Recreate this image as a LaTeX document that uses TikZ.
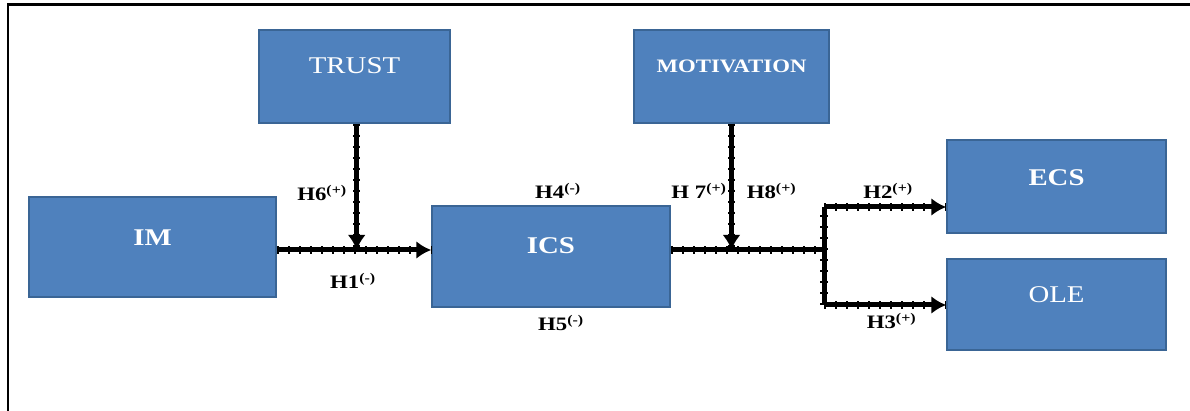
\documentclass[tikz,border=0pt]{standalone}
\usepackage{fontspec}
\setmainfont{Liberation Serif}[FakeStretch=1.2]
\usetikzlibrary{arrows.meta}
\definecolor{boxfill}{HTML}{4F81BD}
\definecolor{boxline}{HTML}{3A6595}
\tikzset{
  block/.style={draw=boxline, line width=1.5pt, fill=boxfill, inner sep=0pt},
  boxtext/.style={text=white, inner sep=0pt, font=\fontsize{24}{28}\selectfont},
  boxbold/.style={boxtext, font=\bfseries\fontsize{24}{28}\selectfont},
  hyp/.style={inner sep=0pt, font=\bfseries\fontsize{19}{22}\selectfont},
  linkline/.style={line width=5pt, preaction={draw, -, line width=7.5pt, dash pattern=on 2pt off 9pt}},
  linkarrow/.style={linkline, -{Latex[length=15pt,width=18pt]}}
}
\begin{document}
\begin{tikzpicture}[x=1pt,y=1pt]
    \useasboundingbox (0,0) rectangle (1190,411);
    % frame
    \draw[line width=3pt] (7,406) -- (1190,406);
    \draw[line width=2pt] (8,0) -- (8,407);
    %
    \node[block, minimum width=191pt, minimum height=93pt, label={[boxtext, yshift=10.5pt]center:TRUST}] (trust) at (354.5,334.5) {};
    \node[block, minimum width=195pt, minimum height=93pt, label={[boxbold, font=\bfseries\fontsize{19}{22}\selectfont, yshift=10pt]center:MOTIVATION}] (motivation) at (731.5,334.5) {};
    \node[block, minimum width=247pt, minimum height=100pt, label={[boxbold, yshift=9pt]center:IM}] (im) at (152.5,164) {};
    \node[block, minimum width=238pt, minimum height=101pt, label={[boxbold, yshift=10.5pt]center:ICS}] (ics) at (551,154.5) {};
    \node[block, minimum width=219pt, minimum height=93pt, label={[boxbold, yshift=8.5pt]center:ECS}] (ecs) at (1056.5,224.5) {};
    \node[block, minimum width=219pt, minimum height=91pt, label={[boxtext, yshift=9.5pt]center:OLE}] (ole) at (1056.5,106.5) {};
    %
    \coordinate (j1) at (356.7,161);
    \coordinate (j2) at (731.5,161);
    \coordinate (split) at (824,161);
    \coordinate (up) at (824,204);
    \coordinate (down) at (824,106);
    %
    \draw[linkarrow] (im.east |- j1) -- (ics.west |- j1);
    \draw[linkarrow] (trust.south -| j1) -- (j1);
    \draw[linkline] (ics.east |- j2) -- (split);
    \draw[linkarrow] (motivation.south) -- (j2);
    \draw[linkline] (down) -- (up);
    \draw[linkarrow] (up) -- (ecs.west |- up);
    \draw[linkarrow] (down) -- (ole.west |- down);
    %
    \node[hyp] (h6) at (322,218) {H6\textsuperscript{(+)}};
    \node[hyp] (h1) at (353,130) {H1\textsuperscript{(-)}};
    \node[hyp] (h4) at (558,220) {H4\textsuperscript{(-)}};
    \node[hyp] (h5) at (561,88) {H5\textsuperscript{(-)}};
    \node[hyp] (h7) at (699,220) {H 7\textsuperscript{(+)}};
    \node[hyp] (h8) at (771.5,220) {H8\textsuperscript{(+)}};
    \node[hyp] (h2) at (888,220) {H2\textsuperscript{(+)}};
    \node[hyp] (h3) at (891.5,90) {H3\textsuperscript{(+)}};
\end{tikzpicture}
\end{document}
